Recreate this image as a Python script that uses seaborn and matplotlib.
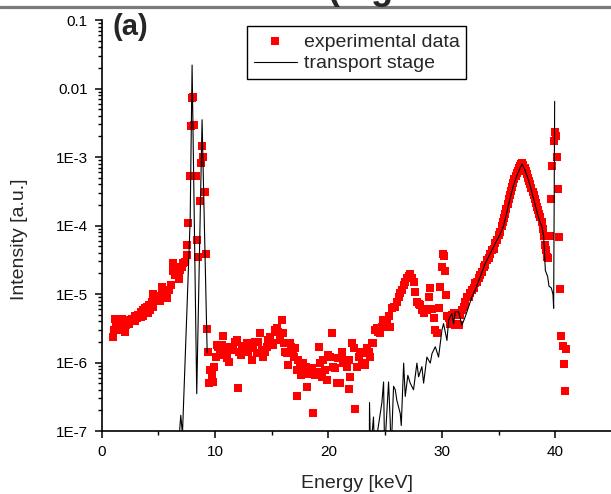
import matplotlib
matplotlib.use("Agg")
import matplotlib.pyplot as plt
from matplotlib.lines import Line2D
from matplotlib.ticker import LogLocator, NullFormatter, MultipleLocator
import numpy as np
import pandas as pd
import seaborn as sns

# experimental data (red squares)
exp_energy = [
    1.03, 1.10, 1.18, 1.25, 1.32, 1.40, 1.47, 1.56, 1.65, 1.76, 1.85, 1.91, 2.00, 2.06, 2.15, 2.26,
    2.40, 2.50, 2.65, 2.79, 2.90, 2.94, 3.09, 3.20, 3.32, 3.44, 3.50, 3.62, 3.68, 3.82, 3.97, 4.05,
    4.21, 4.26, 4.41, 4.50, 4.56, 4.71, 4.85, 5.00, 5.10, 5.15, 5.29, 5.35, 5.44, 5.59, 5.70, 5.79,
    5.97, 6.09, 6.26, 6.32, 6.38, 6.45, 6.50, 6.60, 6.68, 6.79, 6.85, 6.91, 7.06, 7.20, 7.35, 7.50,
    7.56, 7.65, 7.79, 7.85, 7.97, 8.05, 8.17, 8.30, 8.40, 8.47, 8.65, 8.76, 8.82, 8.97, 9.12, 9.20,
    9.28, 9.41, 9.47, 9.56, 9.70, 9.79, 9.91, 10.06, 10.15, 10.29, 10.44, 10.59, 10.73, 10.88, 11.03,
    11.09, 11.26, 11.47, 11.62, 11.76, 11.91, 12.06, 12.14, 12.26, 12.35, 12.50, 12.65, 12.79, 12.94,
    13.09, 13.23, 13.38, 13.53, 13.67, 13.82, 13.97, 14.12, 14.26, 14.41, 14.56, 14.70, 14.85, 15.00,
    15.15, 15.29, 15.44, 15.59, 15.73, 15.88, 15.97, 16.09, 16.18, 16.32, 16.47, 16.62, 16.70, 16.85,
    16.97, 17.06, 17.20, 17.26, 17.35, 17.50, 17.56, 17.73, 17.85, 18.03, 18.14, 18.32, 18.53, 18.62,
    18.82, 18.97, 19.12, 19.26, 19.41, 19.56, 19.70, 19.85, 20.00, 20.15, 20.29, 20.44, 20.59, 20.73,
    20.88, 21.03, 21.18, 21.32, 21.47, 21.62, 21.77, 21.85, 21.91, 22.06, 22.21, 22.35, 22.50, 22.65,
    22.80, 22.94, 23.09, 23.24, 23.38, 23.53, 23.68, 23.82, 23.97, 24.12, 24.27, 24.41, 24.56, 24.71,
    24.85, 25.00, 25.15, 25.30, 25.44, 25.59, 25.74, 25.89, 26.04, 26.18, 26.33, 26.48, 26.63, 26.77,
    26.92, 27.07, 27.21, 27.36, 27.51, 27.65, 27.80, 27.95, 28.10, 28.24, 28.39, 28.54, 28.68, 28.83,
    28.98, 29.13, 29.27, 29.42, 29.57, 29.71, 29.86, 30.01, 30.07, 30.21, 30.30, 30.36, 30.45, 30.60,
    30.74, 30.89, 31.04, 31.18, 31.33, 31.48, 31.62, 31.77, 31.92, 32.07, 32.21, 32.36, 32.51, 32.65,
    32.80, 32.95, 33.10, 33.24, 33.39, 33.54, 33.68, 33.83, 33.98, 34.12, 34.27, 34.42, 34.57, 34.71,
    34.86, 35.01, 35.15, 35.30, 35.40, 35.50, 35.60, 35.70, 35.80, 35.90, 36.00, 36.10, 36.20, 36.30,
    36.40, 36.50, 36.60, 36.70, 36.80, 36.90, 37.00, 37.10, 37.20, 37.30, 37.40, 37.50, 37.60, 37.70,
    37.80, 37.90, 38.00, 38.10, 38.20, 38.30, 38.40, 38.50, 38.60, 38.70, 38.80, 38.90, 39.00, 39.10,
    39.20, 39.30, 39.40, 39.56, 39.65, 39.74, 39.86, 39.95, 40.09, 40.18, 40.27, 40.36, 40.45, 40.53,
    40.65, 40.74, 40.86, 40.98,
]
exp_intensity = [
    2.33e-6, 3.0e-6, 4.3e-6, 3.6e-6, 4.2e-6, 3.3e-6, 3.0e-6, 3.7e-6, 3.1e-6, 4.3e-6, 3.4e-6, 3.9e-6,
    3.7e-6, 2.8e-6, 3.5e-6, 3.9e-6, 3.6e-6, 4.2e-6, 4.3e-6, 4.2e-6, 4.0e-6, 4.7e-6, 4.4e-6, 5.0e-6,
    4.9e-6, 5.5e-6, 4.6e-6, 5.8e-6, 4.7e-6, 6.2e-6, 6.5e-6, 5.3e-6, 6.9e-6, 5.8e-6, 7.7e-6, 6.5e-6,
    1.0e-5, 8.2e-6, 8.6e-6, 9.1e-6, 8.0e-6, 9.3e-6, 1.25e-5, 9.8e-6, 8.6e-6, 9.3e-6, 1.05e-5, 8.6e-6,
    1.14e-5, 1.35e-5, 2.86e-5, 2.2e-5, 2.24e-5, 1.9e-5, 2.5e-5, 2.1e-5, 1.89e-5, 1.64e-5, 1.95e-5,
    2.24e-5, 2.5e-5, 2.8e-5, 2.96e-5, 3.7e-5, 5.2e-5, 1.1e-4, 5.2e-4, 2.8e-3, 7.2e-3, 7.4e-3, 2.95e-3,
    5.2e-4, 6.2e-5, 3.5e-5, 2.3e-4, 8.1e-4, 1.45e-3, 1.0e-3, 3.1e-4, 3.8e-5, 3.05e-6, 1.44e-6, 5.1e-7,
    7.8e-7, 6.6e-7, 5.2e-7, 8.7e-7, 1.19e-6, 1.8e-6, 1.7e-6, 1.29e-6, 1.8e-6, 2.44e-6, 1.7e-6, 1.36e-6,
    1.15e-6, 1.03e-6, 1.7e-6, 1.52e-6, 2.0e-6, 2.13e-6, 4.2e-7, 1.44e-6, 1.29e-6, 1.7e-6, 1.74e-6,
    1.61e-6, 1.9e-6, 1.44e-6, 1.61e-6, 1.09e-6, 1.7e-6, 2.0e-6, 1.36e-6, 2.0e-6, 2.67e-6, 1.52e-6,
    1.22e-6, 1.44e-6, 1.7e-6, 2.13e-6, 2.38e-6, 1.9e-6, 1.8e-6, 2.98e-6, 3.15e-6, 2.8e-6, 2.13e-6,
    4.2e-6, 2.67e-6, 1.9e-6, 1.44e-6, 1.36e-6, 9.2e-7, 1.9e-6, 1.7e-6, 1.52e-6, 1.22e-6, 1.61e-6,
    7.8e-7, 3.2e-7, 1.09e-6, 8.7e-7, 6.6e-7, 9.7e-7, 6.9e-7, 8.7e-7, 4.4e-7, 6.9e-7, 8.2e-7, 1.85e-7,
    6.6e-7, 7.3e-7, 1.7e-6, 9.7e-7, 6.2e-7, 1.09e-6, 7.8e-7, 5.5e-7, 1.29e-6, 1.22e-6, 2.67e-6, 8.7e-7,
    8.2e-7, 5.0e-7, 1.15e-6, 5.1e-7, 1.44e-6, 9.7e-7, 1.09e-6, 8.7e-7, 1.09e-6, 4.1e-7, 6.2e-7, 1.9e-6,
    1.61e-6, 2.1e-7, 8.7e-7, 1.22e-6, 1.44e-6, 9.7e-7, 1.36e-6, 9.2e-7, 1.61e-6, 1.44e-6, 1.22e-6,
    1.9e-6, 1.95e-6, 3.0e-6, 3.15e-6, 2.8e-6, 2.67e-6, 3.3e-6, 4.2e-6, 4.2e-6, 3.7e-6, 4.7e-6, 3.3e-6,
    6.2e-6, 6.5e-6, 6.5e-6, 7.7e-6, 9.1e-6, 1.02e-5, 1.14e-5, 1.35e-5, 1.51e-5, 1.69e-5, 1.83e-5,
    1.96e-5, 1.69e-5, 1.51e-5, 1.08e-5, 7.7e-6, 7.1e-6, 6.9e-6, 5.8e-6, 5.2e-6, 6.0e-6, 5.8e-6, 9.1e-6,
    1.21e-5, 6.0e-6, 4.4e-6, 3.0e-6, 2.7e-6, 6.2e-6, 1.25e-5, 2.5e-5, 3.8e-5, 3.6e-5, 2.2e-5, 9.7e-6,
    4.7e-6, 4.4e-6, 3.7e-6, 4.9e-6, 5.2e-6, 3.5e-6, 3.7e-6, 3.5e-6, 4.9e-6, 5.8e-6, 6.5e-6, 7.7e-6,
    9.1e-6, 9.1e-6, 1.02e-5, 1.14e-5, 1.21e-5, 1.43e-5, 1.51e-5, 1.69e-5, 1.89e-5, 2.1e-5, 2.5e-5,
    2.65e-5, 3.1e-5, 3.3e-5, 3.9e-5, 4.4e-5, 4.6e-5, 5.5e-5, 6.1e-5, 7.3e-5, 8.1e-5, 1.0e-4, 1.12e-4,
    1.29e-4, 1.48e-4, 1.74e-4, 2.04e-4, 2.4e-4, 2.8e-4, 3.2e-4, 3.7e-4, 4.2e-4, 4.7e-4, 5.2e-4, 5.75e-4,
    6.3e-4, 6.9e-4, 7.4e-4, 7.9e-4, 8.1e-4, 7.6e-4, 6.9e-4, 6.2e-4, 5.6e-4, 5.0e-4, 4.5e-4, 4.0e-4,
    3.5e-4, 3.1e-4, 2.75e-4, 2.4e-4, 2.14e-4, 1.86e-4, 1.66e-4, 1.48e-4, 1.32e-4, 1.12e-4, 8.9e-5,
    7.1e-5, 5.2e-5, 4.4e-5, 3.5e-5, 3.4e-5, 7.1e-5, 2.4e-4, 7.5e-4, 1.7e-3, 2.35e-3, 2.0e-3, 1.0e-3,
    3.4e-4, 6.9e-5, 1.2e-5, 2.4e-6, 1.75e-6, 9.4e-7, 3.8e-7, 1.55e-6,
]

# transport stage simulation (black line, two visible pieces)
tr1_energy = [6.85, 6.97, 7.12, 7.80, 7.97, 8.38, 8.85, 9.30]
tr1_intensity = [9e-8, 1.7e-7, 9e-8, 1.2e-4, 2.2e-2, 3.5e-7, 3.5e-3, 1.4e-6]

tr2_energy = [
    23.60, 23.62, 23.71, 23.97, 24.06, 24.71, 24.86, 24.95, 25.30, 25.44, 25.53, 25.74, 25.89, 26.03,
    26.33, 26.42, 26.63, 26.77, 27.00, 27.21, 27.50, 27.80, 27.95, 28.24, 28.39, 28.68, 28.98, 29.13,
    29.42, 29.71, 30.01, 30.15, 30.45, 30.60, 30.89, 31.04, 31.18, 31.48, 31.77, 32.07, 32.36, 32.65,
    32.95, 33.39, 33.83, 34.27, 34.71, 35.15, 35.45, 35.75, 36.04, 36.33, 36.63, 36.85, 37.07, 37.30,
    37.50, 37.75, 37.95, 38.20, 38.40, 38.60, 38.83, 38.98, 39.13, 39.33, 39.45, 39.65, 39.80, 39.86,
    39.95,
]
tr2_intensity = [
    5e-8, 2.6e-7, 5e-8, 1.6e-7, 5e-8, 2.6e-7, 5.2e-7, 5e-8, 5.2e-7, 1.45e-7, 5e-8, 4.5e-7, 4.0e-7,
    2.8e-7, 1.8e-7, 1.2e-7, 9.8e-7, 3.2e-7, 6.5e-7, 5.0e-7, 4.0e-7, 9.8e-7, 6.2e-7, 8.7e-7, 5.0e-7,
    1.2e-6, 9.8e-7, 1.35e-6, 1.7e-6, 1.2e-6, 3.0e-6, 3.7e-6, 2.1e-6, 4.2e-6, 5.2e-6, 3.7e-6, 5.5e-6,
    5.5e-6, 3.5e-6, 4.7e-6, 6.5e-6, 9.1e-6, 1.15e-5, 1.8e-5, 2.8e-5, 3.9e-5, 5.5e-5, 7.5e-5, 1.0e-4,
    1.6e-4, 2.6e-4, 3.9e-4, 5.4e-4, 6.6e-4, 7.9e-4, 6.6e-4, 5.4e-4, 4.0e-4, 3.0e-4, 2.1e-4, 1.55e-4,
    1.2e-4, 9.5e-5, 6.9e-5, 2.2e-5, 1.8e-5, 1.3e-5, 1.23e-5, 1.0e-5, 6.2e-6, 6.5e-3,
]

x_ticks = [0, 10, 20, 30, 40]
y_ticks = [1e-7, 1e-6, 1e-5, 1e-4, 1e-3, 1e-2, 1e-1]
y_tick_labels = ["1E-7", "1E-6", "1E-5", "1E-4", "1E-3", "0.01", "0.1"]

sns.set_style("ticks")
plt.rcParams["font.family"] = ["Liberation Sans", "DejaVu Sans"]

fig = plt.figure(figsize=(6.11, 4.94), dpi=100)
ax = fig.add_axes([0.1665, 0.1275, 0.835, 0.832])

df_exp = pd.DataFrame({"energy": exp_energy, "intensity": exp_intensity})
sns.scatterplot(data=df_exp, x="energy", y="intensity", ax=ax, marker="s", s=28,
                color="#ff0000", linewidth=0, label="experimental data", zorder=2)
sns.lineplot(x=tr1_energy, y=tr1_intensity, ax=ax, estimator=None, sort=False,
             color="black", linewidth=0.8, label="transport stage", zorder=3)
sns.lineplot(x=tr2_energy, y=tr2_intensity, ax=ax, estimator=None, sort=False,
             color="black", linewidth=0.8, zorder=3)

ax.set_yscale("log")
ax.set_xlim(0, 45)
ax.set_ylim(1e-7, 0.1)
ax.set_xticks(x_ticks)
ax.xaxis.set_minor_locator(MultipleLocator(5))
ax.set_yticks(y_ticks, y_tick_labels)
ax.yaxis.set_minor_locator(LogLocator(base=10, subs=np.arange(2, 10)))
ax.yaxis.set_minor_formatter(NullFormatter())

for side in ["top", "right"]:
    ax.spines[side].set_visible(False)
for side in ["left", "bottom"]:
    ax.spines[side].set_linewidth(1.2)
    ax.spines[side].set_color("black")
ax.tick_params(which="major", direction="out", length=5, width=1.1, labelsize=11, pad=5, colors="black")
ax.tick_params(which="minor", direction="out", length=3, width=1.0, colors="black")

ax.set_xlabel("Energy [keV]", fontsize=14)
ax.set_ylabel("Intensity [a.u.]", fontsize=14)
ax.xaxis.set_label_coords(0.5, -0.107)
ax.yaxis.set_label_coords(-0.145, 0.467)

ax.text(0.022, 1.017, "(a)", transform=ax.transAxes, fontsize=21, fontweight="bold",
        va="top", ha="left")

handles, labels = ax.get_legend_handles_labels()
leg = ax.legend(handles, labels, loc="upper left", bbox_to_anchor=(0.285, 0.985), borderaxespad=0,
                fontsize=14, frameon=True, fancybox=False, framealpha=1, edgecolor="black",
                handlelength=2.2, handletextpad=0.35, labelspacing=0.22, borderpad=0.35,
                scatterpoints=1)
leg.get_frame().set_linewidth(1.0)

# band at the top of the cropped page
fig.add_artist(Line2D([0, 1], [0.985, 0.985], transform=fig.transFigure, color="#7a7a7a", linewidth=2.3))
fig.text(0.535, 1.002, "(Fig", fontsize=26, fontweight="bold", va="baseline", ha="left")

fig.savefig("out.png", dpi=100)
